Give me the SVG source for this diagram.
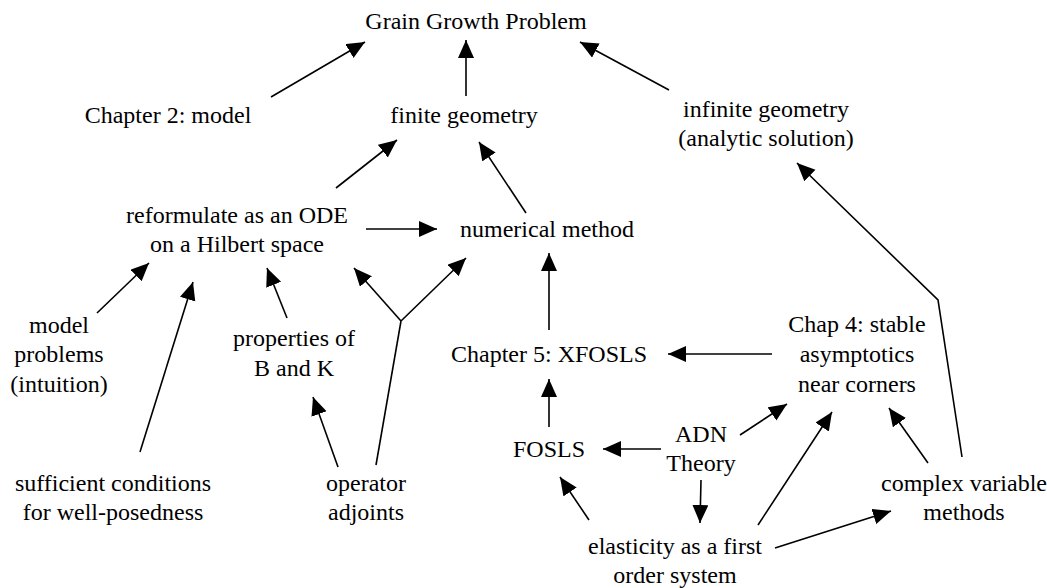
<svg xmlns="http://www.w3.org/2000/svg" width="1047" height="588" viewBox="0 0 1047 588">
<style>
text{font-family:"Liberation Serif","Times New Roman",serif;font-size:24px;fill:#000;text-anchor:middle}
.c line,.c polyline{stroke:#000;stroke-width:1.6;fill:none}
.a{marker-end:url(#ah)}
</style>
<defs>
<marker id="ah" markerUnits="userSpaceOnUse" markerWidth="20" markerHeight="18" refX="18" refY="8" orient="auto">
<path d="M0,0 L18,8 L0,16 z" fill="#000"/>
</marker>
</defs>
<rect width="1047" height="588" fill="#fff"/>
<g id="n-grain"><text x="476" y="29">Grain Growth Problem</text></g>
<g id="n-ch2"><text x="168" y="123">Chapter 2: model</text></g>
<g id="n-finite"><text x="464" y="123">finite geometry</text></g>
<g id="n-infinite"><text x="766" y="117">infinite geometry</text><text x="766" y="146">(analytic solution)</text></g>
<g id="n-reform"><text x="237" y="223">reformulate as an ODE</text><text x="237" y="252">on a Hilbert space</text></g>
<g id="n-numer"><text x="547" y="237">numerical method</text></g>
<g id="n-model"><text x="59" y="333">model</text><text x="59" y="362">problems</text><text x="59" y="392">(intuition)</text></g>
<g id="n-props"><text x="294" y="346">properties of</text><text x="294" y="376">B and K</text></g>
<g id="n-ch5"><text x="549" y="362">Chapter 5: XFOSLS</text></g>
<g id="n-ch4"><text x="857" y="332">Chap 4: stable</text><text x="857" y="362">asymptotics</text><text x="857" y="392">near corners</text></g>
<g id="n-fosls"><text x="549" y="457">FOSLS</text></g>
<g id="n-adn"><text x="701" y="442">ADN</text><text x="701" y="471">Theory</text></g>
<g id="n-suff"><text x="113" y="491">sufficient conditions</text><text x="113" y="520">for well-posedness</text></g>
<g id="n-oper"><text x="366" y="491">operator</text><text x="366" y="520">adjoints</text></g>
<g id="n-complex"><text x="964" y="491">complex variable</text><text x="964" y="520">methods</text></g>
<g id="n-elast"><text x="675" y="554">elasticity as a first</text><text x="675" y="583">order system</text></g>
<g id="connectors" class="c">
<line class="a" x1="271" y1="97" x2="365" y2="42"/>
<line class="a" x1="466" y1="96" x2="466" y2="40"/>
<line class="a" x1="669" y1="90" x2="580" y2="42"/>
<line class="a" x1="336" y1="188" x2="397" y2="140"/>
<line class="a" x1="526" y1="213" x2="479" y2="142"/>
<line class="a" x1="366" y1="229" x2="437" y2="229"/>
<line class="a" x1="549" y1="330" x2="549" y2="253"/>
<line class="a" x1="772" y1="354" x2="668" y2="354"/>
<line class="a" x1="549" y1="427" x2="549" y2="379"/>
<line class="a" x1="661" y1="449" x2="603" y2="449"/>
<line class="a" x1="740" y1="435" x2="787" y2="404"/>
<line class="a" x1="701" y1="480" x2="700" y2="523"/>
<line class="a" x1="589" y1="520" x2="560" y2="477"/>
<line class="a" x1="758" y1="525" x2="832" y2="412"/>
<line class="a" x1="775" y1="548" x2="891" y2="511"/>
<line class="a" x1="928" y1="463" x2="889" y2="408"/>
<polyline class="a" points="962,457 938,300 797,163"/>
<line class="a" x1="97" y1="313" x2="149" y2="263"/>
<line class="a" x1="140" y1="452" x2="193" y2="282"/>
<line class="a" x1="287" y1="318" x2="267" y2="268"/>
<line class="a" x1="338" y1="467" x2="313" y2="397"/>
<line x1="376" y1="465" x2="401" y2="321"/>
<line class="a" x1="401" y1="321" x2="354" y2="268"/>
<line class="a" x1="401" y1="321" x2="466" y2="258"/>
</g>
</svg>
